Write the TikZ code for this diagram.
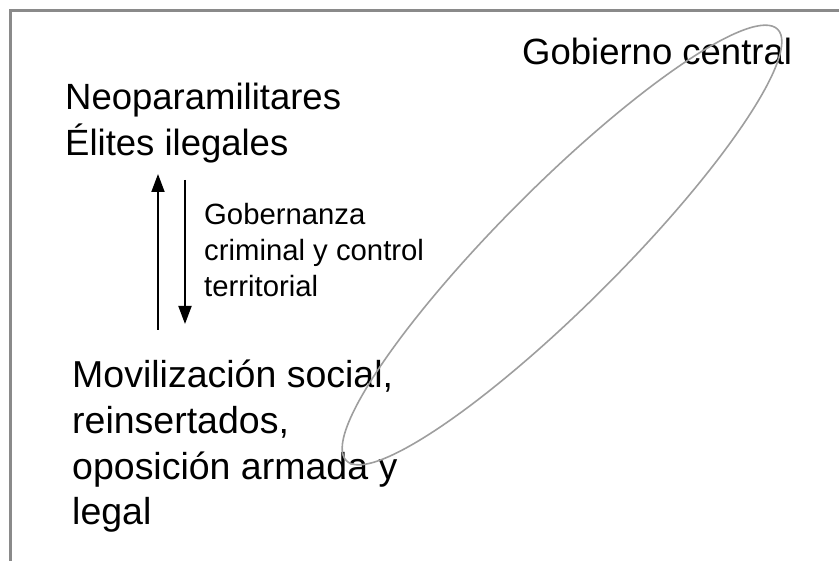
\documentclass[tikz,border=0pt]{standalone}
\usepackage{fontspec}
\setmainfont{Liberation Sans}
\usetikzlibrary{arrows.meta,shapes}
\newcommand{\bigtext}{\fontsize{36.5}{46}\selectfont}
\newcommand{\lowtext}{\fontsize{37.5}{45.7}\selectfont}
\newcommand{\smalltext}{\fontsize{29.3}{36}\selectfont}
\definecolor{framegray}{RGB}{138,138,138}
\definecolor{ringgray}{RGB}{158,158,158}

\begin{document}
\begin{tikzpicture}[x=1pt,y=-1pt]
            \tikzset{Actor/.style = {anchor=base west, align=left, inner sep=0pt, font=\bigtext}}
            \tikzset{Flow/.style = {line width=1.8pt, -{Triangle[length=18pt,width=13pt]}}}
            \useasboundingbox (0,0) rectangle (839,561);
            \draw[framegray, line width=2.2pt] (10.5,561) -- (10.5,10.5) -- (839,10.5);

            \node[Actor] (neo) at (65,156) {Neoparamilitares\\Élites ilegales};
            \node[Actor, font=\lowtext] (mov) at (72,525) {Movilización social,\\reinsertados,\\oposición armada y\\legal};
            \node[Actor] (gob) at (522,65) {Gobierno central};
            \node[Actor, font=\smalltext] (gov) at (204,297) {Gobernanza\\criminal y control\\territorial};

            \coordinate (upfrom) at (158,330);
            \coordinate (upto) at (158,174);
            \coordinate (downfrom) at (185,180);
            \coordinate (downto) at (185,324);

            \draw[Flow] (upfrom) -- (upto);
            \draw[Flow] (downfrom) -- (downto);

            \draw[ringgray, line width=1.6pt] (562,245) ellipse [x radius=305pt, y radius=60pt, rotate=45];
        \end{tikzpicture}
\end{document}
